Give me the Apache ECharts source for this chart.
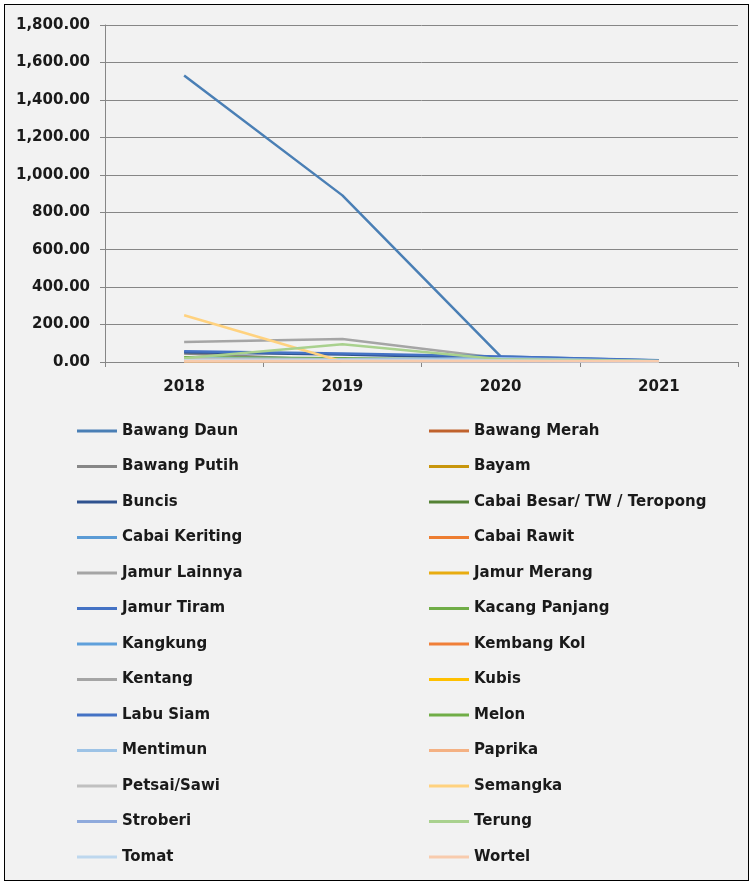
<!DOCTYPE html>
<html>
<head>
<meta charset="utf-8">
<script src="https://cdn.jsdelivr.net/npm/echarts@6/dist/echarts.min.js"></script>
<style>
  html, body { margin: 0; padding: 0; background: #fff; }
  .frame {
    position: absolute; left: 4px; top: 4px;
    width: 743px; height: 875px;
    border: 1px solid #000; background: #f2f2f2;
  }
  #chart { position: absolute; left: 0; top: 0; width: 752px; height: 883px; }
</style>
</head>
<body>
<div class="frame"></div>
<div id="chart"></div>
<script>
// years on the x axis
var years = ['2018', '2019', '2020', '2021']
var yTicks = [0, 200, 400, 600, 800, 1000, 1200, 1400, 1600, 1800]

var names = [
  'Bawang Daun', 'Bawang Merah', 'Bawang Putih', 'Bayam', 'Buncis',
  'Cabai Besar/ TW / Teropong', 'Cabai Keriting', 'Cabai Rawit', 'Jamur Lainnya',
  'Jamur Merang', 'Jamur Tiram', 'Kacang Panjang', 'Kangkung', 'Kembang Kol',
  'Kentang', 'Kubis', 'Labu Siam', 'Melon', 'Mentimun', 'Paprika',
  'Petsai/Sawi', 'Semangka', 'Stroberi', 'Terung', 'Tomat', 'Wortel'
]

// one row per vegetable, 2018..2021
var values = [
  [1530, 890, 30, 8],
  [10, 8, 5, 3],
  [45, 8, 5, 2],
  [4, 3, 2, 1],
  [52, 40, 20, 5],
  [12, 10, 6, 3],
  [20, 15, 10, 4],
  [15, 10, 8, 8],
  [3, 2, 2, 1],
  [2, 2, 1, 1],
  [8, 6, 4, 2],
  [25, 20, 12, 4],
  [10, 8, 6, 3],
  [12, 10, 6, 7],
  [107, 123, 20, 5],
  [6, 5, 3, 2],
  [58, 45, 30, 10],
  [18, 12, 8, 3],
  [20, 15, 20, 6],
  [3, 3, 2, 1],
  [15, 12, 8, 3],
  [250, 3, 2, 1],
  [5, 4, 3, 2],
  [20, 95, 15, 5],
  [10, 10, 8, 3],
  [6, 6, 5, 4]
]

var colors = [
  '#4a7fb5', '#c0622d', '#878787', '#c8960c', '#2f528f',
  '#548235', '#5b9bd5', '#ed7d31', '#a5a5a5', '#e8ac10',
  '#4472c4', '#70ad47', '#5fa0db', '#f07f38', '#a5a5a5',
  '#ffc000', '#4472c4', '#70ad47', '#9dc3e6', '#f4b183',
  '#c0c0c0', '#ffd27f', '#8faadc', '#a9d18e', '#bdd7ee', '#f8cbad'
]

var font = '"DejaVu Sans", sans-serif'
var myChart = echarts.init(document.getElementById('chart'))

var series = names.map(function (n, i) {
  return {
    name: n,
    type: 'line',
    data: values[i],
    showSymbol: false,
    symbol: 'none',
    lineStyle: { width: 2.5, color: colors[i] },
    itemStyle: { color: colors[i] },
    animation: false
  }
})

function legendBlock(left, start) {
  return {
    orient: 'vertical',
    left: left,
    top: 423,
    padding: 0,
    icon: 'rect',
    itemWidth: 40,
    itemHeight: 3,
    itemGap: 19.5,
    selectedMode: false,
    data: names.filter(function (n, i) { return i % 2 === start }),
    textStyle: { fontFamily: font, fontWeight: 'bold', fontSize: 15, color: '#1a1a1a', lineHeight: 16 }
  }
}

var option = {
  backgroundColor: 'transparent',
  grid: { left: 105, right: 14, top: 25, bottom: 521 },
  legend: [legendBlock(77, 0), legendBlock(429, 1)],
  xAxis: {
    type: 'category',
    data: years,
    boundaryGap: true,
    axisLine: { lineStyle: { color: '#868686', width: 1 } },
    axisTick: { show: true, length: 5, lineStyle: { color: '#868686' } },
    axisLabel: { margin: 18, fontFamily: font, fontWeight: 'bold', fontSize: 15, color: '#1a1a1a' }
  },
  yAxis: {
    type: 'value',
    min: yTicks[0],
    max: yTicks[yTicks.length - 1],
    interval: 200,
    axisLine: { show: true, lineStyle: { color: '#868686' } },
    axisTick: { show: true, length: 5, lineStyle: { color: '#868686' } },
    splitLine: { lineStyle: { color: '#868686', width: 1 } },
    axisLabel: {
      margin: 15,
      fontFamily: font, fontWeight: 'bold', fontSize: 15, color: '#1a1a1a',
      formatter: function (v) {
        return v.toLocaleString('en-US', { minimumFractionDigits: 2, maximumFractionDigits: 2 })
      }
    }
  },
  series: series
}
myChart.setOption(option)
</script>
</body>
</html>
